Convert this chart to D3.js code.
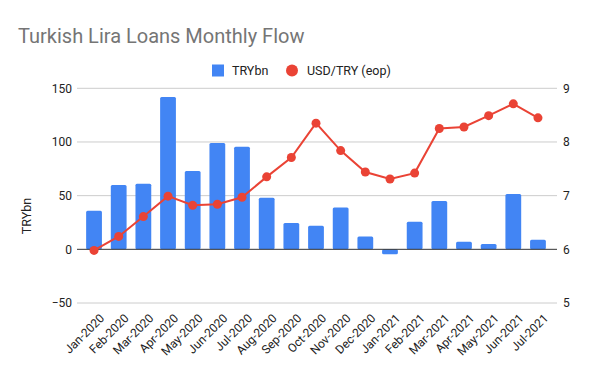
<!DOCTYPE html>
<html><head><meta charset="utf-8">
<script src="https://cdn.jsdelivr.net/npm/d3@7"></script>
<style>body{margin:0;background:#fff}svg{display:block;font-family:Roboto,Arial,sans-serif}</style>
</head><body><svg id="c" width="600" height="371"></svg>
<script>
const categories = ["Jan-2020","Feb-2020","Mar-2020","Apr-2020","May-2020","Jun-2020","Jul-2020","Aug-2020","Sep-2020","Oct-2020","Nov-2020","Dec-2020","Jan-2021","Feb-2021","Mar-2021","Apr-2021","May-2021","Jun-2021","Jul-2021"];
const tryBn = [36,60,61,142,73,99,95.5,48,24.5,22,39,12,-4.7,25.7,45,7,5,51.5,9];
const usdTry = [5.98,6.24,6.61,6.99,6.82,6.84,6.97,7.35,7.71,8.35,7.84,7.44,7.31,7.42,8.25,8.28,8.49,8.71,8.45];
const leftTicks = [-50,0,50,100,150];
const rightTicks = [5,6,7,8,9];

const svg = d3.select("#c");
const gx0 = 77, gx1 = 557;
const yL = d3.scaleLinear().domain([-50,150]).range([303,88.3]);
const yR = d3.scaleLinear().domain([5,9]).range([303,88.3]);
const x = d3.scaleBand().domain(categories).range([81.7,550.3]).paddingInner(0.36).paddingOuter(0.18);

svg.append("text").attr("x",18).attr("y",43).attr("font-size",20).attr("fill","#757575").text("Turkish Lira Loans Monthly Flow");

// legend
const lg = svg.append("g");
lg.append("rect").attr("x",212).attr("y",64.5).attr("width",12).attr("height",12).attr("fill","#4285f4");
lg.append("text").attr("x",232).attr("y",75).attr("font-size",12.5).attr("fill","#222").text("TRYbn");
lg.append("circle").attr("cx",292).attr("cy",70.5).attr("r",6).attr("fill","#ea4335");
lg.append("text").attr("x",307).attr("y",75).attr("font-size",12.5).attr("fill","#222").text("USD/TRY (eop)");

// gridlines
svg.append("g").selectAll("line").data(leftTicks.filter(d=>d!==0)).join("line")
  .attr("x1",gx0).attr("x2",gx1).attr("y1",d=>yL(d)).attr("y2",d=>yL(d)).attr("stroke","#cccccc").attr("stroke-width",1);

// axes
const la = svg.append("g").attr("transform",`translate(${gx0},0)`).call(d3.axisLeft(yL).tickValues(leftTicks).tickFormat(d3.format("d")).tickSize(0).tickPadding(5));
la.select(".domain").remove();
la.selectAll("text").attr("font-size",12).attr("fill","#222").attr("font-family","Roboto,Arial,sans-serif");
const ra = svg.append("g").attr("transform",`translate(${gx1},0)`).call(d3.axisRight(yR).tickValues(rightTicks).tickFormat(d3.format("d")).tickSize(0).tickPadding(6));
ra.select(".domain").remove();
ra.selectAll("text").attr("font-size",12).attr("fill","#222").attr("font-family","Roboto,Arial,sans-serif");

svg.append("text").attr("transform","translate(31,216) rotate(-90)").attr("text-anchor","middle").attr("font-size",12.5).attr("fill","#222").text("TRYbn");

// bars
svg.append("g").selectAll("rect").data(categories).join("rect")
  .attr("x",d=>x(d)).attr("width",x.bandwidth())
  .attr("y",(d,i)=>yL(Math.max(0,tryBn[i])))
  .attr("height",(d,i)=>Math.abs(yL(tryBn[i])-yL(0)))
  .attr("fill","#4285f4").attr("rx",1.5);

// zero line
svg.append("line").attr("x1",gx0).attr("x2",gx1).attr("y1",yL(0)).attr("y2",yL(0)).attr("stroke","#333").attr("stroke-width",1);

// line
const cx = d=>x(d)+x.bandwidth()/2;
const line = d3.line().x((d,i)=>cx(categories[i])).y(d=>yR(d));
svg.append("path").datum(usdTry).attr("d",line).attr("fill","none").attr("stroke","#ea4335").attr("stroke-width",2);
svg.append("g").selectAll("circle").data(usdTry).join("circle")
  .attr("cx",(d,i)=>cx(categories[i])).attr("cy",d=>yR(d)).attr("r",4.5).attr("fill","#ea4335");

// x labels
svg.append("g").selectAll("text").data(categories).join("text")
  .attr("transform",d=>`translate(${cx(d)+5},${313}) rotate(-45)`)
  .attr("text-anchor","end").attr("dy","0.7em").attr("font-size",12).attr("fill","#222").text(d=>d);
</script></body></html>
